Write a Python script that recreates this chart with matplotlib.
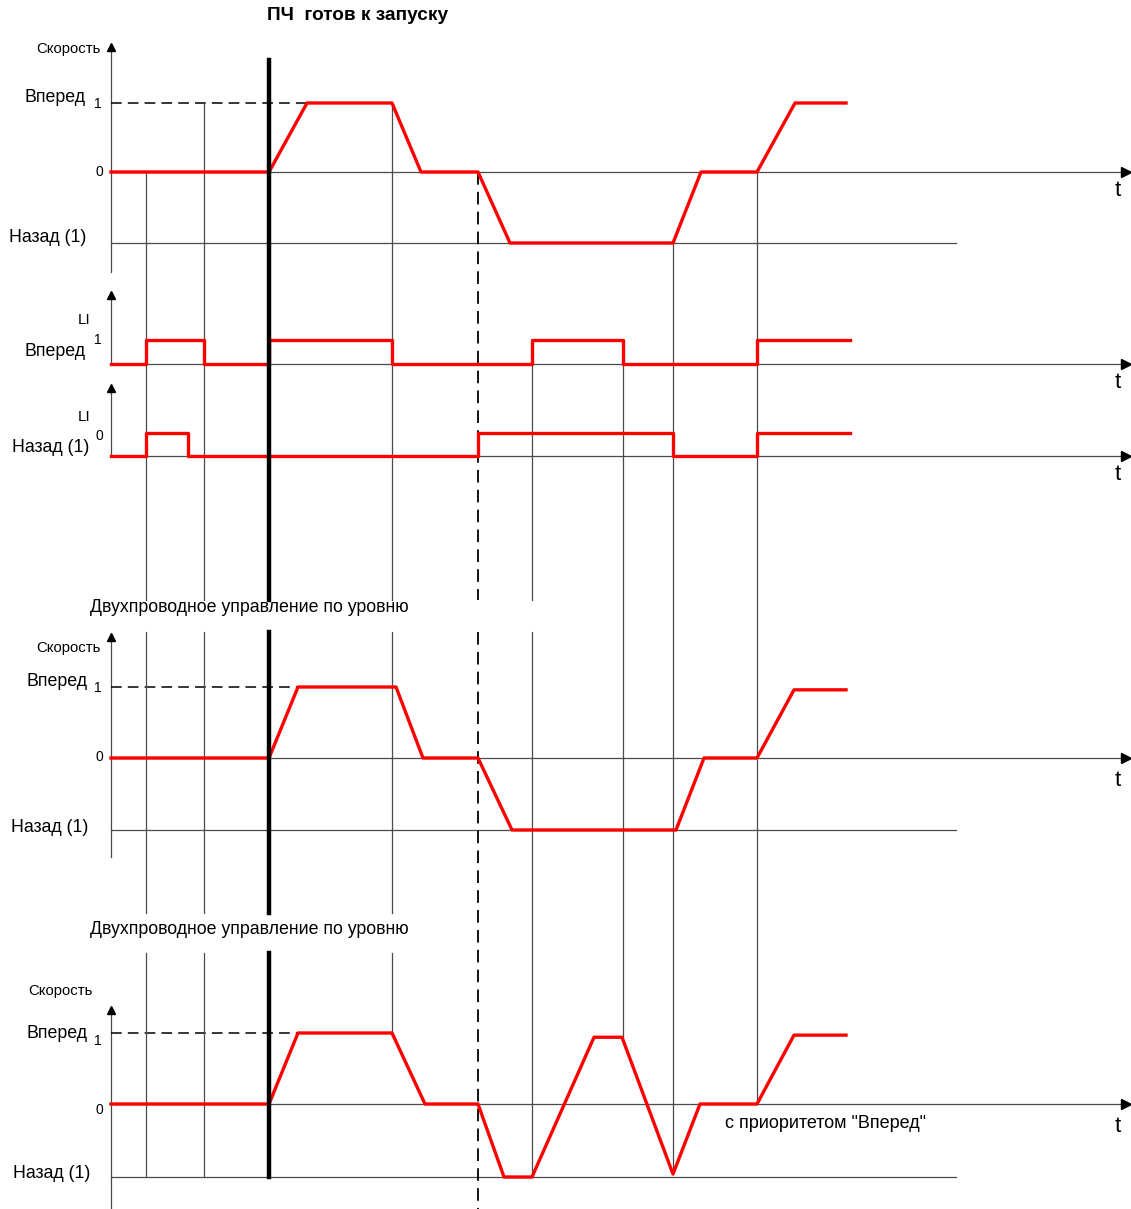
import numpy as np
import matplotlib
matplotlib.use("Agg")
import matplotlib.pyplot as plt

plt.rcParams['font.family'] = ['Liberation Sans', 'DejaVu Sans']

# ---- data: event times (t, px scale) and levels (1 fwd, 0 stop, -1 rev) ----
speed1_t = [111, 269, 307, 392, 421, 478, 510, 673, 701, 757, 795, 846]
speed1_v = [0, 0, 1, 1, 0, 0, -1, -1, 0, 0, 1, 1]

li_fwd_t = [111, 146, 146, 204, 204, 269, 269, 392, 392, 532, 532, 623, 623, 757, 757, 850]
li_fwd_v = [0, 0, 1, 1, 0, 0, 1, 1, 0, 0, 1, 1, 0, 0, 1, 1]

li_rev_t = [111, 146, 146, 188, 188, 478, 478, 673, 673, 757, 757, 850]
li_rev_v = [0, 0, 1, 1, 0, 0, 1, 1, 0, 0, 1, 1]

speed2_t = [111, 269, 298, 396, 423, 478, 512, 676, 704, 757, 794, 846]
speed2_v = [0, 0, 1, 1, 0, 0, -1, -1, 0, 0, 0.96, 0.96]

speed3_t = [111, 269, 298, 392, 425, 478, 504, 532, 594, 622, 673, 700, 757, 794, 846]
speed3_v = [0, 0, 1, 1, 0, 0, -1, -1, 0.94, 0.94, -0.96, 0, 0, 0.97, 0.97]

event_t = [146, 204, 392, 532, 623, 673, 757]   # thin marker lines
ready_t = 269                                   # "ПЧ готов к запуску"
stop_t = 478                                    # dashed marker

RED = '#ff0000'
GRID = '#4a4a4a'
BIG = 12.8      # Вперед / Назад labels
SMALL = 10.7    # Скорость
TINY = 10       # 0 / 1
NOTE = 12.8     # captions

fig = plt.figure(figsize=(11.31, 12.09), dpi=100)
ax = fig.add_axes([0, 0, 1, 1])
ax.set_xlim(0, 1131)
ax.set_ylim(1209, 0)
ax.axis('off')


def y_of(v, zero, up, down):
    v = np.asarray(v, dtype=float)
    return np.where(v >= 0, zero - v * (zero - up), zero + (-v) * (down - zero))


def time_axis(y, t_y):
    ax.plot([111, 1124], [y, y], color=GRID, lw=0.9, zorder=1)
    ax.plot([1126], [y], marker='>', color='black', ms=7, zorder=1)
    ax.text(1118, t_y, 't', fontsize=16, ha='center', va='center')


def y_axis(top, bottom):
    ax.plot([111, 111], [top + 6, bottom], color=GRID, lw=0.9, zorder=1)
    ax.plot([111], [top + 5], marker='^', color='black', ms=6, zorder=1)


def dashed_level(y, x1):
    ax.plot([111, x1], [y, y], color='black', lw=1.1, ls=(0, (7, 4)), zorder=1)


# ---- panel 1: speed ----
p1 = (172, 103, 243)
y_axis(42, 272)
time_axis(p1[0], 190)
dashed_level(p1[1], 307)
ax.plot([111, 956], [p1[2]] * 2, color=GRID, lw=0.9, zorder=1)
ax.plot(speed1_t, y_of(speed1_v, *p1), color=RED, lw=2.4, zorder=3)
ax.text(101, 49, 'Скорость', fontsize=SMALL, ha='right', va='center')
ax.text(86, 97, 'Вперед', fontsize=BIG, ha='right', va='center')
ax.text(98, 104, '1', fontsize=TINY, ha='center', va='center')
ax.text(99, 172, '0', fontsize=TINY, ha='center', va='center')
ax.text(86, 238, 'Назад (1)', fontsize=BIG, ha='right', va='center')

# ---- panel 2: LI forward ----
p2 = (364, 340, 364)
y_axis(290, 364)
time_axis(p2[0], 383)
ax.plot(li_fwd_t, y_of(li_fwd_v, *p2), color=RED, lw=2.4, zorder=3)
ax.text(84, 320, 'LI', fontsize=11, ha='center', va='center')
ax.text(98, 340, '1', fontsize=TINY, ha='center', va='center')
ax.text(86, 352, 'Вперед', fontsize=BIG, ha='right', va='center')

# ---- panel 3: LI reverse ----
p3 = (456, 433, 456)
y_axis(383, 456)
time_axis(p3[0], 475)
ax.plot(li_rev_t, y_of(li_rev_v, *p3), color=RED, lw=2.4, zorder=3)
ax.text(84, 417, 'LI', fontsize=11, ha='center', va='center')
ax.text(99, 436, '0', fontsize=TINY, ha='center', va='center')
ax.text(89, 448, 'Назад (1)', fontsize=BIG, ha='right', va='center')

ax.text(90, 608, 'Двухпроводное управление по уровню', fontsize=NOTE,
        ha='left', va='center')

# ---- panel 4: speed, level control ----
p4 = (758, 687, 830)
y_axis(632, 857)
time_axis(p4[0], 780)
dashed_level(p4[1], 298)
ax.plot([111, 956], [p4[2]] * 2, color=GRID, lw=0.9, zorder=1)
ax.plot(speed2_t, y_of(speed2_v, *p4), color=RED, lw=2.4, zorder=3)
ax.text(101, 648, 'Скорость', fontsize=SMALL, ha='right', va='center')
ax.text(88, 682, 'Вперед', fontsize=BIG, ha='right', va='center')
ax.text(98, 688, '1', fontsize=TINY, ha='center', va='center')
ax.text(99, 757, '0', fontsize=TINY, ha='center', va='center')
ax.text(88, 828, 'Назад (1)', fontsize=BIG, ha='right', va='center')

ax.text(90, 930, 'Двухпроводное управление по уровню', fontsize=NOTE,
        ha='left', va='center')

# ---- panel 5: speed, forward priority ----
p5 = (1104, 1033, 1177)
y_axis(1005, 1209)
time_axis(p5[0], 1126)
dashed_level(p5[1], 298)
ax.plot([111, 956], [p5[2]] * 2, color=GRID, lw=0.9, zorder=1)
ax.plot(speed3_t, y_of(speed3_v, *p5), color=RED, lw=2.4, zorder=3)
ax.text(93, 991, 'Скорость', fontsize=SMALL, ha='right', va='center')
ax.text(88, 1034, 'Вперед', fontsize=BIG, ha='right', va='center')
ax.text(98, 1041, '1', fontsize=TINY, ha='center', va='center')
ax.text(99, 1110, '0', fontsize=TINY, ha='center', va='center')
ax.text(90, 1173, 'Назад (1)', fontsize=BIG, ha='right', va='center')
ax.text(725, 1124, 'с приоритетом "Вперед"', fontsize=13, ha='left', va='center')

# ---- event marker lines ----
spans = {
    146: (172, 1177), 204: (103, 1177), 392: (103, 1033),
    532: (340, 1177), 623: (340, 1037), 673: (243, 1173), 757: (172, 1104),
}
for t in event_t:
    y0, y1 = spans[t]
    segs = [(y0, y1)]
    if t < 450:
        segs = [(y0, 600), (632, 913), (953, y1)]
    elif t == 532:
        segs = [(y0, 600), (632, y1)]
    for a, b in segs:
        ax.plot([t, t], [a, b], color=GRID, lw=0.9, zorder=2)

for a, b in [(60, 600), (632, 913), (953, 1177)]:
    ax.plot([ready_t, ready_t], [a, b], color='black', lw=3.2, zorder=4)

for a, b in [(172, 600), (632, 1209)]:
    ax.plot([stop_t, stop_t], [a, b], color='black', lw=1.3,
            ls=(0, (7, 4)), zorder=2)

ax.text(358, 16, 'ПЧ  готов к запуску', fontsize=13.7, fontweight='bold',
        ha='center', va='center')

fig.savefig('out.png', dpi=100)
